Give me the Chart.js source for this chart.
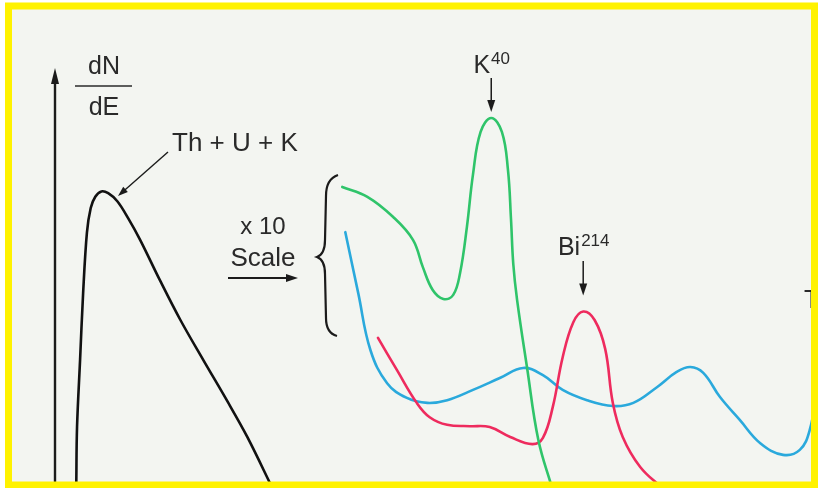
<!DOCTYPE html>
<html><head><meta charset="utf-8">
<script src="https://cdn.jsdelivr.net/npm/chart.js@4/dist/chart.umd.min.js"></script>
<style>html,body{margin:0;padding:0;background:#fff}canvas{display:block}</style>
</head><body>
<canvas id="c" width="818" height="488"></canvas>
<script>
// Energy (arbitrary channel units 0-100) and dN/dE (relative, 0-100)
const totalE = [2.8, 2.9, 3.3, 3.7, 4.2, 4.7, 5.3, 6.1, 7.0, 8.2, 9.6, 11.2, 13.8, 16.5, 19.5, 22.6, 25.3, 28.6];
const totalN = [1.1, 13.6, 28.6, 43.5, 57.0, 62.5, 65.0, 66.2, 65.8, 64.0, 60.3, 55.4, 46.4, 37.5, 28.6, 19.6, 11.4, 0];

const potassiumE = [37.8, 41.1, 44.5, 47.1, 48.4, 49.7, 51.1, 52.4, 53.3, 54.2, 55.0, 56.0, 57.4, 58.8, 59.6, 60.0, 60.3, 60.8, 62.1, 63.6, 65.4];
const potassiumN = [67.2, 65.0, 60.5, 55.4, 49.3, 44.2, 42.2, 43.1, 48.0, 58.3, 70.0, 79.5, 82.6, 79.5, 71.0, 60.0, 50.0, 42.0, 27.0, 10.7, 0];

const uraniumE = [42.5, 45.0, 47.6, 49.3, 51.6, 54.6, 57.2, 59.9, 62.8, 64.2, 65.5, 66.8, 68.2, 69.5, 71.0, 72.4, 73.4, 74.7, 77.0, 79.9];
const uraniumN = [33.5, 26.3, 19.0, 15.8, 14.1, 13.8, 13.6, 11.4, 9.8, 11.2, 18.1, 29.2, 37.0, 39.4, 37.5, 31.0, 19.0, 11.4, 4.7, 0];

const thoriumE = [38.2, 39.9, 41.5, 43.7, 46.3, 49.0, 51.6, 55.0, 58.6, 61.6, 64.2, 66.8, 70.0, 73.4, 76.1, 79.2, 81.8, 83.6, 85.3, 87.5, 90.1, 92.8, 95.8, 98.0, 99.3, 100.4];
const thoriumN = [57.1, 43.5, 30.8, 23.4, 20.1, 19.0, 19.6, 21.9, 24.6, 26.8, 25.2, 21.9, 19.6, 18.3, 19.0, 22.5, 25.9, 27.0, 25.7, 20.3, 15.2, 10.0, 7.4, 8.5, 12.9, 22.8];

const labels = {
  yTop: 'dN', yBottom: 'dE',
  total: 'Th + U + K',
  scaleTop: 'x 10', scaleBottom: 'Scale',
  kBase: 'K', kSup: '40',
  biBase: 'Bi', biSup: '214',
  tl: 'T'
};

const pts = (xs, ys) => xs.map((x, i) => ({x, y: ys[i]}));
const FONT = '"Liberation Sans", Arial, Helvetica, sans-serif';

function arrowHead(ctx, x, y, ang, len, half) {
  ctx.save();
  ctx.translate(x, y); ctx.rotate(ang);
  ctx.beginPath();
  ctx.moveTo(0, 0); ctx.lineTo(-len, -half); ctx.lineTo(-len, half); ctx.closePath();
  ctx.fill();
  ctx.restore();
}
function arrow(ctx, x1, y1, x2, y2, w, len, half) {
  const ang = Math.atan2(y2 - y1, x2 - x1);
  ctx.lineWidth = w;
  ctx.beginPath(); ctx.moveTo(x1, y1);
  ctx.lineTo(x2 - Math.cos(ang) * len * 0.8, y2 - Math.sin(ang) * len * 0.8); ctx.stroke();
  arrowHead(ctx, x2, y2, ang, len, half);
}
function supLabel(ctx, base, sup, cx, baseline, bs, ss) {
  ctx.font = bs + 'px ' + FONT;
  const wb = ctx.measureText(base).width;
  ctx.font = ss + 'px ' + FONT;
  const ws = ctx.measureText(sup).width;
  const x0 = cx - (wb + ws) / 2;
  ctx.textAlign = 'left'; ctx.textBaseline = 'alphabetic';
  ctx.font = bs + 'px ' + FONT;
  ctx.fillText(base, x0, baseline);
  ctx.font = ss + 'px ' + FONT;
  ctx.fillText(sup, x0 + wb + 1, baseline - 9);
}

const decor = {
  id: 'decor',
  beforeDraw(chart) {
    const ctx = chart.ctx;
    ctx.save();
    ctx.fillStyle = '#ffffff';
    ctx.fillRect(0, 0, chart.width, chart.height);
    ctx.fillStyle = '#f3f5f1';
    ctx.fillRect(8, 6, 806, 479);
    ctx.restore();
  },
  afterDraw(chart) {
    const ctx = chart.ctx;
    const xs = chart.scales.x, ys = chart.scales.y;
    const a = chart.chartArea;
    ctx.save();
    ctx.strokeStyle = '#1b1b1b'; ctx.fillStyle = '#1b1b1b';
    ctx.lineCap = 'butt';

    // y axis with arrow
    const ax = a.left;
    ctx.lineWidth = 2.4;
    ctx.beginPath(); ctx.moveTo(ax, chart.height); ctx.lineTo(ax, 82); ctx.stroke();
    arrowHead(ctx, ax, 68, -Math.PI / 2, 16, 4);

    // dN/dE
    ctx.fillStyle = '#2a2a2a';
    ctx.font = '25px ' + FONT; ctx.textAlign = 'center'; ctx.textBaseline = 'alphabetic';
    ctx.fillText(labels.yTop, 104, 74);
    ctx.fillText(labels.yBottom, 104, 115);
    ctx.lineWidth = 1.5; ctx.strokeStyle = '#2a2a2a';
    ctx.beginPath(); ctx.moveTo(75, 86); ctx.lineTo(132, 86); ctx.stroke();

    // Th + U + K annotation
    ctx.textAlign = 'left';
    ctx.font = '26px ' + FONT;
    ctx.fillText(labels.total, 172, 151);
    ctx.fillStyle = '#1b1b1b'; ctx.strokeStyle = '#1b1b1b';
    arrow(ctx, 168, 152, 118, 196, 1.4, 10, 3.5);

    // x 10 Scale
    ctx.fillStyle = '#2a2a2a';
    ctx.font = '24px ' + FONT; ctx.textAlign = 'center';
    ctx.fillText(labels.scaleTop, 263, 234);
    ctx.font = '26px ' + FONT;
    ctx.fillText(labels.scaleBottom, 263, 266);
    ctx.fillStyle = '#1b1b1b';
    arrow(ctx, 228, 278, 298, 278, 2, 12, 4);

    // brace
    ctx.lineWidth = 2.2;
    ctx.beginPath();
    ctx.moveTo(338, 175);
    ctx.quadraticCurveTo(326, 179, 326, 196);
    ctx.lineTo(325, 240);
    ctx.quadraticCurveTo(325, 254, 317, 257);
    ctx.quadraticCurveTo(325, 260, 325, 274);
    ctx.lineTo(326, 318);
    ctx.quadraticCurveTo(326, 333, 337, 336);
    ctx.stroke();

    // K40 label pointing at green peak
    let ki = potassiumN.indexOf(Math.max(...potassiumN));
    const kx = xs.getPixelForValue(potassiumE[ki]), ky = ys.getPixelForValue(potassiumN[ki]);
    ctx.fillStyle = '#2a2a2a';
    supLabel(ctx, labels.kBase, labels.kSup, kx, 73, 25, 17);
    ctx.fillStyle = '#1b1b1b';
    arrow(ctx, kx, 78, kx, ky - 6, 1.5, 12, 4);

    // Bi214 label pointing at red peak
    let bi = uraniumN.indexOf(Math.max(...uraniumN));
    const bx = xs.getPixelForValue(uraniumE[bi]), by = ys.getPixelForValue(uraniumN[bi]);
    ctx.fillStyle = '#2a2a2a';
    supLabel(ctx, labels.biBase, labels.biSup, bx, 255, 25, 17);
    ctx.fillStyle = '#1b1b1b';
    arrow(ctx, bx, 261, bx, by - 16, 1.5, 12, 4);

    // cut-off label at right edge
    ctx.fillStyle = '#2a2a2a';
    ctx.font = '25px ' + FONT; ctx.textAlign = 'left';
    ctx.fillText(labels.tl, 804, 308);

    // yellow frame
    ctx.strokeStyle = '#fff200';
    ctx.lineWidth = 7;
    ctx.strokeRect(8.5, 6, 806, 479);
    ctx.restore();
  }
};

new Chart(document.getElementById('c'), {
  type: 'line',
  data: {
    datasets: [
      { label: 'Th + U + K', data: pts(totalE, totalN), borderColor: '#111111', borderWidth: 2.6, tension: 0.35 },
      { label: 'K40 (x10)', data: pts(potassiumE, potassiumN), borderColor: '#2fc46a', borderWidth: 2.6, tension: 0.4 },
      { label: 'Bi214 (x10)', data: pts(uraniumE, uraniumN), borderColor: '#ee2b5e', borderWidth: 2.6, tension: 0.4 },
      { label: 'Th (x10)', data: pts(thoriumE, thoriumN), borderColor: '#2aa9dc', borderWidth: 2.6, tension: 0.4 }
    ]
  },
  options: {
    responsive: false,
    devicePixelRatio: 1,
    animation: false,
    layout: { padding: { left: 55, right: 3, top: 40, bottom: 0 } },
    datasets: { line: { clip: false } },
    elements: {
      point: { radius: 0 },
      line: { cubicInterpolationMode: 'default', fill: false, borderCapStyle: 'round', borderJoinStyle: 'round' }
    },
    scales: {
      x: { type: 'linear', min: 0, max: 100, display: false },
      y: { type: 'linear', min: 0, max: 100, display: false }
    },
    plugins: { legend: { display: false }, tooltip: { enabled: false } }
  },
  plugins: [decor]
});
</script>
</body></html>
